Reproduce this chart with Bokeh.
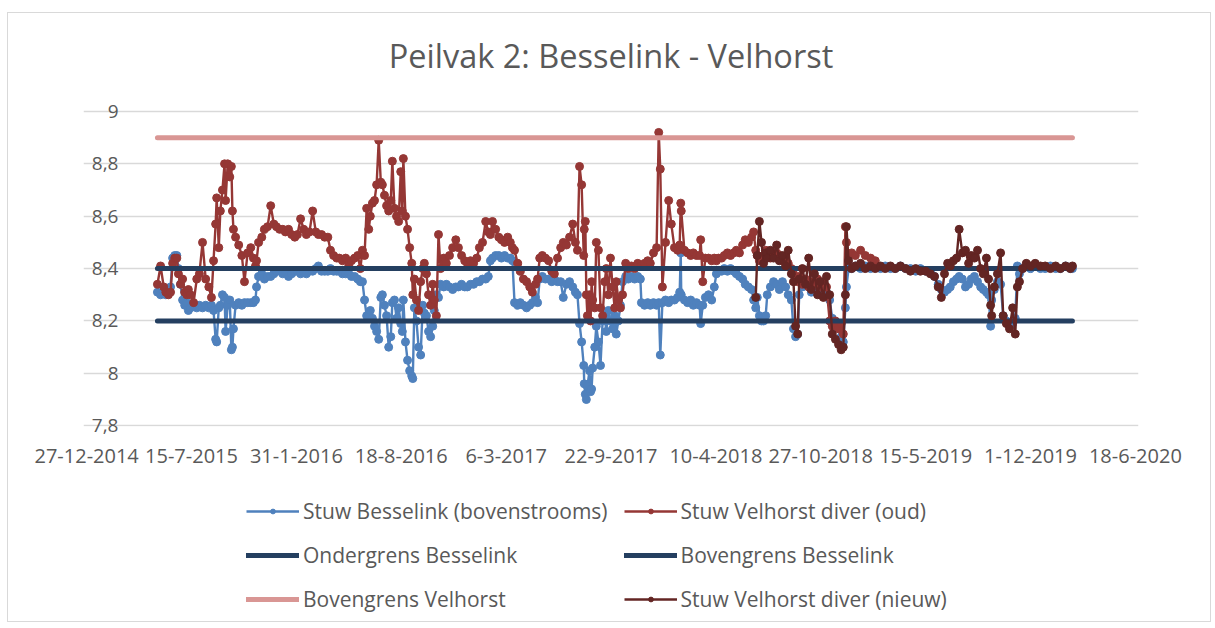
import pandas as pd
from bokeh.plotting import figure
from bokeh.layouts import column
from bokeh.models import FixedTicker, Legend, LegendItem, Range1d, ColumnDataSource
from bokeh.embed import file_html
from bokeh.resources import INLINE

# ---------------- data ----------------
startdatum = "2014-12-27"

# measurement days (days after startdatum)
meetdag = [
    135, 141, 147, 151, 156, 160, 164, 168, 172, 175,
    179, 183, 187, 191, 194, 198, 204, 210, 215, 221,
    227, 233, 238, 242, 246, 248, 252, 255, 259, 263,
    265, 269, 273, 276, 278, 280, 284, 290, 296, 301,
    307, 313, 318, 322, 324, 328, 334, 339, 345, 351,
    357, 362, 368, 374, 379, 385, 391, 397, 402, 408,
    414, 419, 425, 431, 437, 442, 448, 454, 460, 465,
    471, 477, 482, 488, 494, 500, 505, 511, 517, 522,
    526, 530, 534, 538, 541, 545, 549, 553, 557, 561,
    564, 568, 572, 576, 580, 583, 587, 591, 595, 599,
    602, 604, 608, 612, 616, 620, 622, 625, 629, 633,
    637, 641, 644, 648, 652, 656, 660, 663, 667, 671,
    675, 681, 686, 692, 698, 704, 709, 715, 721, 726,
    732, 738, 744, 749, 755, 761, 766, 770, 774, 780,
    786, 791, 797, 803, 808, 812, 816, 822, 827, 833,
    839, 845, 850, 856, 860, 864, 869, 875, 881, 887,
    892, 898, 904, 909, 915, 921, 927, 932, 936, 940,
    944, 948, 949, 951, 953, 955, 959, 961, 963, 965,
    969, 972, 976, 980, 984, 988, 991, 995, 999, 1003,
    1007, 1010, 1014, 1018, 1022, 1028, 1033, 1039, 1045, 1051,
    1056, 1058, 1064, 1070, 1075, 1081, 1087, 1091, 1094, 1098,
    1104, 1110, 1115, 1121, 1127, 1131, 1133, 1134, 1140, 1146,
    1152, 1157, 1163, 1169, 1171, 1175, 1180, 1186, 1192, 1197,
    1201, 1205, 1211, 1216, 1222, 1228, 1234, 1239, 1245, 1251,
    1256, 1262, 1268, 1272, 1276, 1279, 1283, 1287, 1291, 1295,
    1298, 1304, 1310, 1316, 1321, 1327, 1333, 1338, 1344, 1348,
    1352, 1356, 1359, 1365, 1371, 1377, 1382, 1388, 1394, 1399,
    1405, 1411, 1417, 1422, 1428, 1434, 1439, 1443, 1447, 1449,
    1453, 1459, 1466, 1476, 1485, 1495, 1504, 1514, 1523, 1533,
    1542, 1552, 1562, 1571, 1581, 1590, 1600, 1609, 1617, 1624,
    1630, 1636, 1642, 1647, 1653, 1659, 1664, 1670, 1676, 1682,
    1687, 1693, 1699, 1705, 1710, 1716, 1720, 1724, 1726, 1731,
    1737, 1743, 1748, 1754, 1760, 1766, 1771, 1775, 1779, 1785,
    1792, 1800, 1809, 1819, 1828, 1838, 1848, 1857, 1867, 1876,
    1880,
]

stuw_besselink = [
    8.31, 8.30, 8.31, 8.30, 8.31, 8.33, 8.44, 8.45, 8.45, 8.40,
    8.34, 8.28, 8.26, 8.27, 8.24, 8.25, 8.26, 8.25, 8.26, 8.25,
    8.26, 8.25, 8.26, 8.24, 8.13, 8.12, 8.25, 8.26, 8.30, 8.29,
    8.16, 8.26, 8.28, 8.09, 8.10, 8.17, 8.26, 8.27, 8.26, 8.27,
    8.27, 8.27, 8.27, 8.28, 8.33, 8.37, 8.38, 8.36, 8.37, 8.37,
    8.38, 8.39, 8.39, 8.38, 8.39, 8.37, 8.38, 8.39, 8.39, 8.38,
    8.39, 8.38, 8.39, 8.39, 8.40, 8.41, 8.39, 8.39, 8.39, 8.40,
    8.39, 8.39, 8.39, 8.38, 8.38, 8.38, 8.37, 8.37, 8.36, 8.35,
    8.35, 8.28, 8.22, 8.22, 8.24, 8.21, 8.18, 8.16, 8.13, 8.29,
    8.30, 8.26, 8.22, 8.10, 8.14, 8.27, 8.28, 8.21, 8.25, 8.19,
    8.16, 8.28, 8.12, 8.05, 8.01, 7.99, 7.98, 8.25, 8.20, 8.10,
    8.07, 8.26, 8.23, 8.22, 8.16, 8.14, 8.18, 8.24, 8.30, 8.29,
    8.34, 8.33, 8.34, 8.33, 8.32, 8.33, 8.33, 8.34, 8.33, 8.33,
    8.34, 8.34, 8.35, 8.35, 8.36, 8.36, 8.37, 8.43, 8.44, 8.45,
    8.45, 8.44, 8.45, 8.44, 8.44, 8.43, 8.27, 8.26, 8.27, 8.26,
    8.25, 8.26, 8.27, 8.29, 8.27, 8.36, 8.37, 8.36, 8.36, 8.35,
    8.36, 8.35, 8.35, 8.29, 8.34, 8.35, 8.33, 8.31, 8.30, 8.19,
    8.12, 8.03, 7.96, 7.92, 7.90, 7.95, 8.01, 7.93, 7.94, 8.02,
    8.10, 8.18, 8.12, 8.03, 8.20, 8.22, 8.16, 8.24, 8.20, 8.17,
    8.22, 8.15, 8.20, 8.26, 8.35, 8.37, 8.36, 8.37, 8.36, 8.37,
    8.36, 8.27, 8.26, 8.27, 8.26, 8.27, 8.26, 8.27, 8.07, 8.27,
    8.28, 8.27, 8.28, 8.28, 8.29, 8.31, 8.46, 8.30, 8.28, 8.27,
    8.28, 8.26, 8.27, 8.26, 8.19, 8.26, 8.29, 8.30, 8.28, 8.33,
    8.38, 8.39, 8.39, 8.40, 8.39, 8.40, 8.39, 8.38, 8.37, 8.36,
    8.34, 8.33, 8.32, 8.28, 8.25, 8.29, 8.22, 8.20, 8.20, 8.22,
    8.30, 8.33, 8.35, 8.34, 8.32, 8.35, 8.33, 8.30, 8.28, 8.17,
    8.14, 8.15, 8.30, 8.33, 8.35, 8.33, 8.31, 8.34, 8.32, 8.30,
    8.33, 8.31, 8.28, 8.21, 8.19, 8.17, 8.14, 8.12, 8.25, 8.33,
    8.40, 8.40, 8.41, 8.40, 8.41, 8.40, 8.41, 8.40, 8.41, 8.40,
    8.40, 8.41, 8.40, 8.40, 8.39, 8.40, 8.39, 8.39, 8.37, 8.34,
    8.32, 8.31, 8.32, 8.33, 8.35, 8.36, 8.37, 8.36, 8.33, 8.34,
    8.36, 8.37, 8.35, 8.33, 8.32, 8.31, 8.30, 8.18, 8.28, 8.32,
    8.35, 8.34, 8.22, 8.20, 8.18, 8.19, 8.21, 8.41, 8.38, 8.40,
    8.41, 8.40, 8.41, 8.40, 8.40, 8.41, 8.40, 8.40, 8.41, 8.40,
    8.40,
]

# old diver: measured on the first days of meetdag
stuw_velhorst_oud = [
    8.34, 8.41, 8.33, 8.31, 8.30, 8.31, 8.42, 8.44, 8.44, 8.38,
    8.34, 8.36, 8.31, 8.30, 8.32, 8.30, 8.27, 8.36, 8.38, 8.50,
    8.36, 8.33, 8.29, 8.43, 8.57, 8.67, 8.48, 8.62, 8.70, 8.80,
    8.66, 8.80, 8.75, 8.79, 8.62, 8.55, 8.52, 8.49, 8.45, 8.35,
    8.46, 8.48, 8.44, 8.41, 8.43, 8.50, 8.52, 8.55, 8.56, 8.64,
    8.57, 8.56, 8.55, 8.55, 8.54, 8.55, 8.53, 8.52, 8.53, 8.59,
    8.55, 8.53, 8.54, 8.62, 8.54, 8.53, 8.53, 8.52, 8.52, 8.47,
    8.45, 8.44, 8.44, 8.43, 8.44, 8.41, 8.43, 8.44, 8.45, 8.40,
    8.47, 8.45, 8.63, 8.55, 8.60, 8.65, 8.66, 8.72, 8.89, 8.73,
    8.72, 8.68, 8.64, 8.62, 8.66, 8.81, 8.63, 8.60, 8.58, 8.77,
    8.62, 8.82, 8.60, 8.55, 8.48, 8.42, 8.30, 8.36, 8.28, 8.24,
    8.35, 8.40, 8.42, 8.38, 8.30, 8.26, 8.34, 8.28, 8.22, 8.53,
    8.40, 8.44, 8.42, 8.45, 8.48, 8.51, 8.48, 8.45, 8.43, 8.42,
    8.43, 8.42, 8.44, 8.48, 8.50, 8.58, 8.54, 8.53, 8.58, 8.55,
    8.52, 8.51, 8.50, 8.52, 8.50, 8.48, 8.47, 8.42, 8.39, 8.36,
    8.35, 8.33, 8.31, 8.34, 8.36, 8.44, 8.45, 8.44, 8.43, 8.39,
    8.38, 8.44, 8.48, 8.50, 8.49, 8.52, 8.57, 8.50, 8.47, 8.79,
    8.72, 8.45, 8.55, 8.58, 8.30, 8.22, 8.30, 8.20, 8.35, 8.28,
    8.25, 8.50, 8.47, 8.25, 8.22, 8.35, 8.40, 8.30, 8.44, 8.33,
    8.25, 8.35, 8.28, 8.25, 8.30, 8.42, 8.40, 8.41, 8.40, 8.42,
    8.41, 8.41, 8.42, 8.43, 8.42, 8.46, 8.48, 8.92, 8.78, 8.33,
    8.50, 8.66, 8.57, 8.48, 8.47, 8.49, 8.65, 8.62, 8.47, 8.46,
    8.45, 8.46, 8.45, 8.45, 8.51, 8.35, 8.44, 8.44, 8.43, 8.44,
    8.43, 8.44, 8.44, 8.45, 8.46, 8.45, 8.46, 8.47, 8.46, 8.49,
    8.51, 8.50, 8.52, 8.54, 8.47, 8.45, 8.43, 8.44, 8.45, 8.47,
    8.46, 8.44, 8.45, 8.46, 8.45, 8.43, 8.44, 8.42, 8.40, 8.38,
    8.36, 8.35, 8.37, 8.34, 8.36, 8.33, 8.35, 8.34, 8.36, 8.33,
    8.35, 8.33, 8.20, 8.18, 8.20, 8.17, 8.19, 8.15, 8.56, 8.50,
    8.45, 8.46, 8.45, 8.47, 8.45, 8.44, 8.43,
]

# new diver: measured on the last days of meetdag
stuw_velhorst_nieuw = [
    8.29, 8.45, 8.58, 8.50, 8.42, 8.46,
    8.44, 8.47, 8.44, 8.49, 8.43, 8.45, 8.41, 8.47, 8.38, 8.35,
    8.18, 8.15, 8.36, 8.40, 8.34, 8.44, 8.32, 8.38, 8.30, 8.35,
    8.29, 8.37, 8.30, 8.15, 8.13, 8.11, 8.09, 8.10, 8.30, 8.56,
    8.43, 8.40, 8.41, 8.42, 8.40, 8.41, 8.40, 8.41, 8.40, 8.41,
    8.40, 8.41, 8.40, 8.39, 8.40, 8.39, 8.39, 8.38, 8.37, 8.33,
    8.29, 8.38, 8.42, 8.41, 8.43, 8.44, 8.55, 8.46, 8.47, 8.42,
    8.45, 8.44, 8.47, 8.40, 8.38, 8.44, 8.36, 8.26, 8.22, 8.33,
    8.38, 8.46, 8.22, 8.19, 8.17, 8.25, 8.15, 8.33, 8.35, 8.40,
    8.42, 8.41, 8.42, 8.41, 8.41, 8.40, 8.41, 8.40, 8.41, 8.40,
    8.41,
]

grens_dag = [135, 1880]
ondergrens_besselink = [8.2, 8.2]
bovengrens_besselink = [8.4, 8.4]
bovengrens_velhorst = [8.9, 8.9]

x_tick_labels = ["27-12-2014", "15-7-2015", "31-1-2016", "18-8-2016", "6-3-2017",
                 "22-9-2017", "10-4-2018", "27-10-2018", "15-5-2019", "1-12-2019",
                 "18-6-2020"]
y_tick_values = [7.8, 8.0, 8.2, 8.4, 8.6, 8.8, 9.0]
y_tick_labels = ["7,8", "8", "8,2", "8,4", "8,6", "8,8", "9"]

title_text = "Peilvak 2: Besselink - Velhorst"
series_names = ["Stuw Besselink (bovenstrooms)", "Stuw Velhorst diver (oud)",
                "Ondergrens Besselink", "Bovengrens Besselink",
                "Bovengrens Velhorst", "Stuw Velhorst diver (nieuw)"]

# ---------------- build ----------------
FONT = "Open Sans"
TXT = "#595959"
C_BLUE = "#4F81BD"
C_RED = "#953735"
C_DARK = "#632523"
C_NAVY = "#243F60"
C_PINK = "#D99694"
LW = 2.4
MS = 8

t0 = pd.Timestamp(startdatum)
def to_dates(days):
    return t0 + pd.to_timedelta(days, unit="D")

n = len(meetdag)
src_b = ColumnDataSource(dict(x=to_dates(meetdag), y=stuw_besselink))
src_o = ColumnDataSource(dict(x=to_dates(meetdag[:len(stuw_velhorst_oud)]), y=stuw_velhorst_oud))
src_n = ColumnDataSource(dict(x=to_dates(meetdag[n - len(stuw_velhorst_nieuw):]), y=stuw_velhorst_nieuw))
gx = to_dates(grens_dag)

def ms(ts):
    return int(ts.value // 10**6)

tick_ts = [pd.to_datetime(s, format="%d-%m-%Y") for s in x_tick_labels]
tick_ms = [ms(t) for t in tick_ts]
DAY = 86400000

# the (invisible) plot frame reaches a little above the top gridline, leaving
# room for the title in the same band as in the original
p = figure(width=1202, height=470, x_axis_type="datetime",
           output_backend="svg", toolbar_location=None,
           x_range=Range1d(tick_ms[0] - 6 * DAY, tick_ms[-1] + 6 * DAY),
           y_range=Range1d(7.797, 9.103),
           min_border_left=75, min_border_right=72,
           min_border_top=71, min_border_bottom=57)
p.outline_line_color = None
p.background_fill_color = "white"
p.border_fill_color = "white"

xax = p.below[0]
yax = p.left[0]

p.title.text = title_text
p.title.align = "center"
p.title.text_font = FONT
p.title.text_font_size = "32.5px"
p.title.text_font_style = "normal"
p.title.text_color = TXT
p.title.standoff = 14

p.xgrid.grid_line_color = None
p.ygrid.grid_line_color = "#D9D9D9"
p.ygrid.grid_line_width = 1.5

xax.ticker = FixedTicker(ticks=tick_ms)
xax.major_label_overrides = {m: lab for m, lab in zip(tick_ms, x_tick_labels)}
yax.ticker = FixedTicker(ticks=y_tick_values)
yax.major_label_overrides = {v: lab for v, lab in zip(y_tick_values, y_tick_labels)}
for ax in (xax, yax):
    ax.axis_line_color = None
    ax.major_tick_line_color = None
    ax.minor_tick_line_color = None
    ax.major_tick_out = 0
    ax.major_tick_in = 0
    ax.major_label_text_font = FONT
    ax.major_label_text_color = TXT
xax.major_label_text_font_size = "20px"
xax.major_label_standoff = 22
yax.major_label_text_font_size = "19px"
yax.major_label_standoff = -35

styles = [
    dict(kind="pts", color=C_BLUE, width=LW),
    dict(kind="pts", color=C_RED, width=LW),
    dict(kind="lim", color=C_NAVY, width=5),
    dict(kind="lim", color=C_NAVY, width=5),
    dict(kind="lim", color=C_PINK, width=5),
    dict(kind="pts", color=C_DARK, width=LW),
]
sources = [src_b, src_o, ondergrens_besselink, bovengrens_besselink, bovengrens_velhorst, src_n]

def draw(fig, st, src):
    if st["kind"] == "pts":
        r1 = fig.line("x", "y", source=src, color=st["color"], line_width=st["width"])
        r2 = fig.scatter("x", "y", source=src, size=MS, color=st["color"])
        return [r1, r2]
    r1 = fig.line(gx, src, color=st["color"], line_width=st["width"], line_cap="round")
    return [r1]

for st, src in zip(styles, sources):
    draw(p, st, src)

# ---- legend strip below the chart (its own view range lies outside the data,
#      so only the legend samples are visible there) ----
q = figure(width=1202, height=138, output_backend="svg", toolbar_location=None,
           x_axis_location=None, y_axis_location=None,
           x_range=Range1d(0, 1), y_range=Range1d(0, 1),
           min_border=0, min_border_left=0, min_border_right=0,
           min_border_top=0, min_border_bottom=0)
q.outline_line_color = None
q.xgrid.visible = False
q.ygrid.visible = False
items = []
for st, src, name in zip(styles, sources, series_names):
    items.append(LegendItem(label=name, renderers=draw(q, st, src)))

legend = Legend(items=items, orientation="horizontal", ncols=2, location=(163, 8))
legend.label_text_font = FONT
legend.label_text_font_size = "21px"
legend.label_text_color = TXT
legend.glyph_width = 53
legend.glyph_height = 12
legend.label_height = 26
legend.label_standoff = 4
legend.spacing = 16
legend.padding = 0
legend.margin = 0
legend.border_line_color = None
legend.background_fill_alpha = 0
q.add_layout(legend, "center")

layout = column(p, q, spacing=0)
layout.styles = {"border": "1px solid #D9D9D9", "margin-left": "7px", "margin-top": "12px"}

open("out.html", "w").write(file_html(layout, INLINE))
